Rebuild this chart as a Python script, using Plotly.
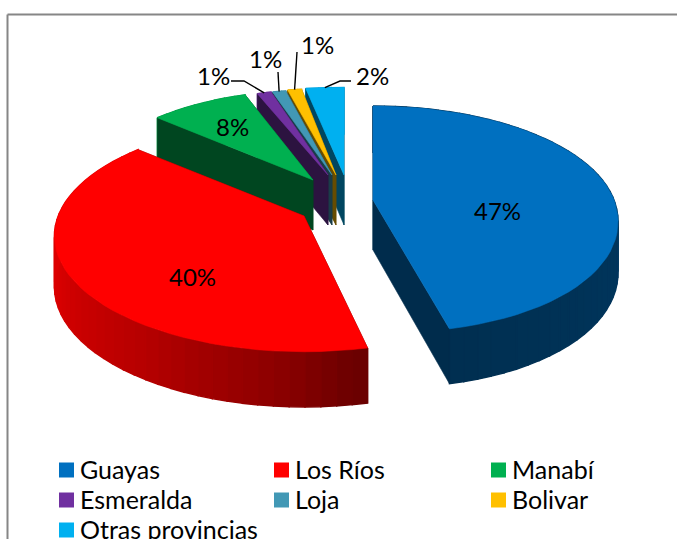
import numpy as np
import plotly.graph_objects as go

categories = ["Guayas", "Los Ríos", "Manabí", "Esmeralda", "Loja", "Bolivar", "Otras provincias"]
values = [46.55, 39.9, 8.0, 1.1, 1.0, 1.0, 2.45]
colors = ["#0070C0", "#FF0000", "#00B050", "#7030A0", "#4298B5", "#FFC000", "#00B0F0"]

# drawing set-up (pixel space of the 677x539 page)
W, H = 677, 539
CENTER = (336, 202)
RX, RY, PERSP, DEPTH = 241, 110, 0.17, 50
PULL = [(37, -2), (-32, 14), (-23, -22), (-8, -27), (-4, -27), (0, -27), (8, -27)]
RADIUS = [1, 1.02, 0.95, 0.9, 0.9, 0.91, 0.92]
X_STRETCH = [1, 1, 1, 1.09, 1.14, 1.18, 1.3]
FRONT_SKEW = [15, 0, 0, 0, 0, 0, 0]
PAINT_ORDER = [6, 5, 4, 3, 2, 1, 0]
INSIDE_LABELS = {0: (497, 210), 1: (192, 276), 2: (232, 126)}
OUTSIDE_LABELS = {3: ((213, 75), [(231, 81), (244, 81)]),
                  4: ((265, 58), [(278, 72)]),
                  5: ((317, 44), [(297, 52)]),
                  6: ((372, 75), [(351, 81), (340, 81)])}
LEGEND_X = [59, 274, 491]
LEGEND_Y = [470, 500, 530]
FONT = "Lato, Carlito, Calibri, sans-serif"


def rgb(hexa, f=1.0):
    return tuple(int(int(hexa[i:i + 2], 16) * f) for i in (1, 3, 5))


def css(c):
    return "rgb(%d,%d,%d)" % c


def proj(i, u, v, z=0.0):
    u, v = u * RADIUS[i] * X_STRETCH[i], v * RADIUS[i]
    s = 1 / (1 + PERSP * v)
    ax, ay = CENTER[0] + PULL[i][0], CENTER[1] + PULL[i][1]
    return (ax + RX * u * s + FRONT_SKEW[i] * max(-v, 0) ** 2,
            ay - RY * v * s + DEPTH * z * (1 + (s - 1) * 0.5))


def rim_shade(theta):
    return float(np.interp(theta, [0, 90, 170, 185, 215, 250, 275, 360],
                           [0.42, 0.5, 0.42, 0.55, 0.72, 0.85, 0.88, 0.9]))


edges = np.concatenate([[0], np.cumsum(values)]) / sum(values) * 360
fig = go.Figure()


def poly(pts, col, lw=0.6):
    xs, ys = zip(*pts)
    fig.add_trace(go.Scatter(x=list(xs) + [xs[0]], y=list(ys) + [ys[0]], mode="lines", fill="toself",
                             fillcolor=col, line=dict(color=col, width=lw),
                             hoverinfo="skip", showlegend=False))


for i in PAINT_ORDER:
    t0, t1 = edges[i], edges[i + 1]
    n = max(3, int((t1 - t0) / 3))
    th = np.linspace(t0, t1, n + 1)
    us, vs = np.sin(np.radians(th)), np.cos(np.radians(th))
    wall = css(rgb(colors[i], 0.40))
    faces = [(us[0], vs[0], +1), (us[-1], vs[-1], -1)]
    visible, hidden = [], []
    for u, v, side in faces:
        x1, _ = proj(i, u, v)
        x0, _ = proj(i, 0, 0)
        cross = (x1 - x0) * side
        quad = [proj(i, 0, 0), proj(i, u, v), proj(i, u, v, 1), proj(i, 0, 0, 1)]
        (visible if cross < 0 else hidden).append(quad)
    for q in hidden:
        poly(q, wall)
    for k in range(n):
        col = css(rgb(colors[i], rim_shade((th[k] + th[k + 1]) / 2)))
        poly([proj(i, us[k], vs[k]), proj(i, us[k + 1], vs[k + 1]),
              proj(i, us[k + 1], vs[k + 1], 1), proj(i, us[k], vs[k], 1)], col, 1.4)
    for q in visible:
        poly(q, wall)
    poly([proj(i, 0, 0)] + [proj(i, u, v) for u, v in zip(us, vs)], colors[i])

# leader lines, ending on the middle of each small slice's rim
for i, (pos, via) in OUTSIDE_LABELS.items():
    mid = np.radians((edges[i] + edges[i + 1]) / 2)
    end = proj(i, np.sin(mid), np.cos(mid))
    pts = via + [end]
    fig.add_trace(go.Scatter(x=[p[0] for p in pts], y=[p[1] for p in pts], mode="lines",
                             line=dict(color="black", width=1.4), hoverinfo="skip", showlegend=False))

annos = []
for i, (x, y) in INSIDE_LABELS.items():
    annos.append(dict(x=x, y=y, text="%d%%" % round(values[i]), showarrow=False))
for i, (pos, via) in OUTSIDE_LABELS.items():
    annos.append(dict(x=pos[0], y=pos[1], text="%d%%" % round(values[i]), showarrow=False))

# legend laid out on a 3-column grid
for j, (name, col) in enumerate(zip(categories, colors)):
    lx, ly = LEGEND_X[j % 3], LEGEND_Y[j // 3]
    fig.add_trace(go.Scatter(x=[lx + 7.5], y=[ly], mode="markers", name=name, showlegend=False,
                             marker=dict(symbol="square", size=15, color=col, line=dict(width=0)),
                             hoverinfo="name", cliponaxis=False))
    annos.append(dict(x=lx + 19, y=ly - 1, text=name, showarrow=False, xanchor="left", yanchor="middle",
                      font=dict(size=25)))

fig.update_layout(
    width=W, height=H, margin=dict(l=0, r=0, t=0, b=0, autoexpand=False), autosize=False,
    paper_bgcolor="white", plot_bgcolor="white",
    font=dict(family=FONT, size=24, color="black"),
    xaxis=dict(range=[0, W], visible=False, fixedrange=True),
    yaxis=dict(range=[H, 0], visible=False, fixedrange=True),
    annotations=annos,
    shapes=[dict(type="line", xref="x", yref="y", x0=7.5, y0=H, x1=7.5, y1=14.5, line=dict(color="#868686", width=2)),
            dict(type="line", xref="x", yref="y", x0=7.5, y0=14.5, x1=W, y1=14.5, line=dict(color="#868686", width=2))],
    showlegend=False,
)
fig.write_html("out.html", config=dict(displayModeBar=False),
               post_script="document.body.style.margin='0';document.body.style.overflow='hidden';")
